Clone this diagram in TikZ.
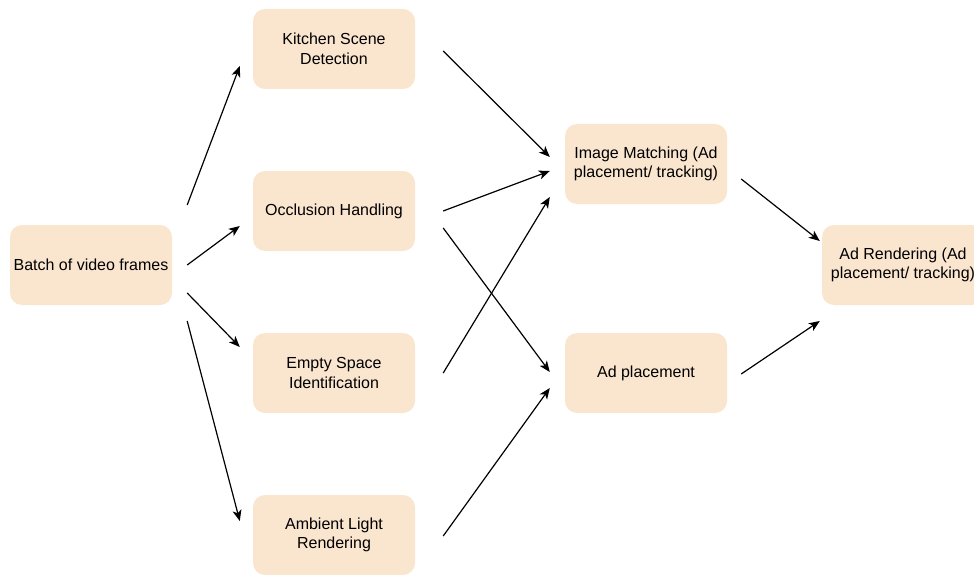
\documentclass[tikz,border=0pt]{standalone}
\usepackage{fontspec}
\setmainfont{Liberation Sans}
\usepackage{xcolor}
\usepackage{tikz}
\usetikzlibrary{arrows.meta}
\usetikzlibrary{positioning}

\definecolor{boxfill}{RGB}{250,229,207}

\begin{document}
\begin{tikzpicture}[
    x=1pt, y=-1pt,
    every node/.style={rectangle, rounded corners=12pt, fill=boxfill, draw=none,
      minimum width=162pt, minimum height=80pt, align=center, inner sep=0pt,
      font=\fontsize{16}{19.5}\selectfont},
    flow/.style={line width=1.2pt, -{Stealth[length=11pt, width=9pt, inset=3pt]}},
  ]

  \useasboundingbox (0,0) rectangle (974,575);

  \node (batch)   at (91,  265) {Batch of video frames};
  \node (kitchen) at (334, 49)  {Kitchen Scene\\Detection};
  \node (occl)    at (334, 211) {Occlusion Handling};
  \node (empty)   at (334, 373) {Empty Space\\Identification};
  \node (ambient) at (334, 535) {Ambient Light\\Rendering};
  \node (match)   at (646, 164) {Image Matching (Ad\\placement/ tracking)};
  \node (place)   at (646, 373) {Ad placement};
  \node (render)  at (903, 265) {Ad Rendering (Ad\\placement/ tracking)};

  \draw[flow] ([shift={(15,-60)}]batch.east) -- ([shift={(-13,17)}]kitchen.west);
  \draw[flow] ([shift={(15,0)}]batch.east)   -- ([shift={(-13,15)}]occl.west);
  \draw[flow] ([shift={(15,28)}]batch.east)  -- ([shift={(-13,-26)}]empty.west);
  \draw[flow] ([shift={(15,56)}]batch.east)  -- ([shift={(-13,-14)}]ambient.west);

  \draw[flow] ([shift={(28,2)}]kitchen.east) -- ([shift={(-15,-7)}]match.west);
  \draw[flow] ([shift={(28,0)}]occl.east)    -- ([shift={(-15,7)}]match.west);
  \draw[flow] ([shift={(28,17)}]occl.east)   -- ([shift={(-15,-1)}]place.west);
  \draw[flow] ([shift={(28,0)}]empty.east)   -- ([shift={(-15,33)}]match.west);
  \draw[flow] ([shift={(28,1)}]ambient.east) -- ([shift={(-15,15)}]place.west);

  \draw[flow] ([shift={(14,15)}]match.east)  -- ([shift={(-2,-24)}]render.west);
  \draw[flow] ([shift={(14,1)}]place.east)   -- ([shift={(-2,56)}]render.west);

\end{tikzpicture}
\end{document}
